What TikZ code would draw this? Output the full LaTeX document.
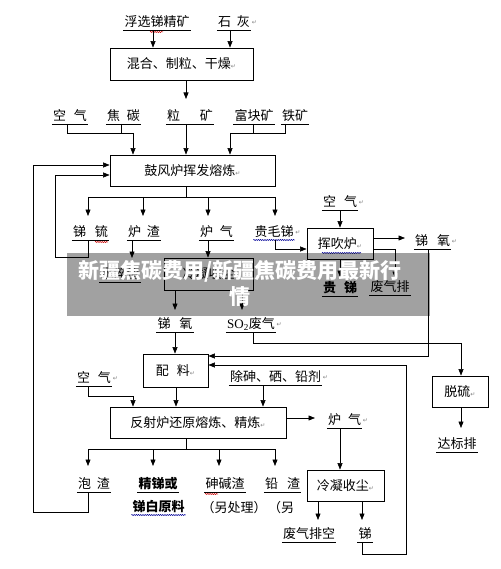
\documentclass[tikz,border=0pt]{standalone}
\usepackage{fontspec}
\setmainfont{Noto Sans CJK SC}
\newfontfamily\retfont{DejaVu Sans}
\newfontfamily\latinserif{Liberation Serif}
\usetikzlibrary{arrows.meta,decorations.pathmorphing}
\newcommand\fs{\fontsize{13}{15}\selectfont}
\newcommand\rt{{\retfont\fontsize{6}{6}\selectfont\textcolor{gray}{↵}}}
\newcommand\gp[1]{\hspace{#1pt}}
\begin{document}
\begin{tikzpicture}[x=1pt,y=-1pt,
  ln/.style={line width=0.6pt},
  arr/.style={line width=0.6pt,-{Triangle[length=6.5pt,width=5pt]}},
  lab/.style={font=\fs,inner xsep=1pt,inner ysep=0pt,text height=11pt,text depth=3.5pt,anchor=south,
     append after command={(\tikzlastnode.south west) edge[ln] (\tikzlastnode.south east)}},
  labw/.style={font=\fs,inner xsep=1pt,inner ysep=0pt,text height=11pt,text depth=3.5pt,anchor=south,
     append after command={(\tikzlastnode.south west) edge[wavyb] (\tikzlastnode.south east)}},
  txt/.style={font=\fs,inner sep=0pt},
  box/.style 2 args={draw,line width=0.8pt,minimum width=#1,minimum height=#2,inner sep=0pt,font=\fs},
  ret/.style={label={[inner sep=0.5pt]east:\rt}},
  wavyb/.style={draw=blue!60!black,line width=0.5pt,decorate,decoration={snake,amplitude=0.6pt,segment length=2.2pt}},
  wavyr/.style={draw=red!80!black,line width=0.5pt,decorate,decoration={snake,amplitude=0.6pt,segment length=2.2pt}},
]
\useasboundingbox (0,0) rectangle (500,569);
\fill[white] (0,0) rectangle (500,569);

% ---------- nodes ----------
\node[lab] (t1) at (157,30) {浮选锑精矿};
\node[lab,ret] (t2) at (234,30) {石\gp{6}灰};
\node[box={143pt}{32pt}] (b1) at (181.5,64) {混合、制粒、干燥\rt};

\node[lab] (a1) at (70,124) {空\gp{8}气};
\node[lab] (a2) at (123.5,124) {焦\gp{7}碳};
\node[lab] (a3) at (190,124) {粒\gp{20}矿};
\node[lab] (a4) at (254,124) {富块矿};
\node[lab] (a5) at (295,124) {铁矿};
\node[box={165pt}{31pt}] (b2) at (192.5,170.5) {鼓风炉挥发熔炼\rt};

\node[lab] (c1) at (90.5,240) {锑\gp{9}锍};
\node[lab] (c2) at (144,240) {炉\gp{6}渣};
\node[lab] (c3) at (216.5,240) {炉\gp{7}气};
\node[labw,ret] (c4) at (274,240) {贵毛锑};

\node[lab] (d1) at (120,282) {水淬渣};
\node[box={89pt}{32pt}] (d2) at (208.5,274) {冷凝收尘};
\node[lab] (e1) at (175,332) {锑\gp{9}氧};
\node[lab,ret] (e2) at (251,332) {{\latinserif SO\textsubscript{2}}废气};

\node[box={66pt}{31pt}] (f1) at (340,243.5) {挥吹炉\rt};
\node[lab,ret] (g1) at (340,210) {空\gp{8}气};
\node[lab,ret] (g2) at (432.5,249) {锑\gp{9}氧};
\node[lab] (g3) at (390,295) {废气排};
\node[lab,font=\fs\bfseries] (g4) at (340,296) {贵\gp{8}锑};

\node[box={65pt}{33pt}] (m1) at (175.5,370.5) {配\gp{8}料\rt};
\node[box={56pt}{31pt}] (n1) at (460,391.5) {脱硫\rt};
\node[lab] (n2) at (457,452) {达标排};

\node[lab,ret] (h1) at (94,386) {空\gp{8}气};
\node[lab,ret] (h2) at (275.5,385) {除砷、硒、铅剂};
\node[box={176pt}{31pt}] (R) at (198,422.5) {反射炉还原熔炼、精炼\rt};
\node[lab,ret] (i1) at (344.5,428) {炉\gp{7}气};
\node[box={77pt}{31pt}] (o) at (345.5,485.5) {冷凝收尘\rt};
\node[lab] (o1) at (309,542) {废气排空};
\node[lab] (o2) at (365,542) {锑\gp{6}};

\node[lab] (p1) at (94,492) {泡\gp{6}渣};
\node[lab,font=\fs\bfseries] (p2) at (158,492) {精锑或};
\node[labw,font=\fs\bfseries] (p3) at (158.5,515) {锑白原料};
\node[lab] (p4) at (225,492) {砷碱渣};
\node[txt] (p5) at (234,508) {（另处理）};
\node[lab] (p6) at (282.5,492) {铅\gp{9}渣};
\node[txt] (p7) at (281,508) {（另};

% ---------- spell-check squiggles ----------
\draw[wavyr] (150,32) -- (163,32);
\draw[wavyr] (95,242) -- (108,242);
\draw[wavyr] (205,494) -- (218,494);
\draw[wavyb] (322,253) -- (361,253);

% ---------- coordinates ----------
\coordinate (k1) at (153,0); \coordinate (k2) at (230,0); \coordinate (k3) at (186,99);
\coordinate (j1) at (67,133); \coordinate (j2) at (133,133); \coordinate (j3) at (121,133);
\coordinate (j4) at (230,133); \coordinate (j5) at (253,133); \coordinate (j6) at (285,133);
\coordinate (s0) at (186,197); \coordinate (s1) at (88,197); \coordinate (s2) at (143,197);
\coordinate (s3) at (208,197); \coordinate (s4) at (275,197);
\coordinate (s1t) at (88,216); \coordinate (s2t) at (143,216);
\coordinate (s3t) at (208,216); \coordinate (s4t) at (275,216);
\coordinate (r1) at (88,257); \coordinate (r2) at (55,257); \coordinate (r3) at (55,175);
\coordinate (u1) at (132,258);
\coordinate (v1) at (175,310); \coordinate (v2) at (242,310);
\coordinate (w1) at (275,249); \coordinate (w2) at (405,238);
\coordinate (w3) at (395,249); \coordinate (w4) at (395,278);
\coordinate (w5) at (340,277); \coordinate (w6) at (428,356);
\coordinate (x1) at (253,343); \coordinate (x2) at (461,343); \coordinate (x3) at (461,428);
\coordinate (y1) at (88,396); \coordinate (y2) at (133,396); \coordinate (y3) at (176,0);
\coordinate (y4) at (263,0); \coordinate (y5) at (315,418); \coordinate (y6) at (340,0);
\coordinate (z1) at (318,520); \coordinate (z2) at (362,520);
\coordinate (z3) at (362,554); \coordinate (z4) at (406,554); \coordinate (z5) at (406,365);
\coordinate (q0) at (186,449); \coordinate (qa) at (88,449); \coordinate (qb) at (153,449);
\coordinate (qc) at (219,449); \coordinate (qd) at (275,449);
\coordinate (qat) at (88,466); \coordinate (qbt) at (153,466);
\coordinate (qct) at (219,466); \coordinate (qdt) at (275,466);
\coordinate (q1) at (88,512); \coordinate (q2) at (33,512); \coordinate (q3) at (33,165);

% ---------- connectors ----------
\draw[arr] (t1.south -| k1) -- (b1.north -| k1);
\draw[arr] (t2.south -| k2) -- (b1.north -| k2);
\draw[arr] (b1.south -| k3) -- (k3);

\draw[ln] (a1.south -| j1) -- (j1) -- (j2);
\draw[ln] (a2.south -| j3) -- (j3);
\draw[arr] (j2) -- (b2.north -| j2);
\draw[arr] (a3.south -| k3) -- (b2.north -| k3);
\draw[ln] (a4.south -| j5) -- (j5);
\draw[ln] (a5.south -| j6) -- (j6) -- (j4);
\draw[arr] (j4) -- (b2.north -| j4);

\draw[ln] (b2.south -| s0) -- (s0);
\draw[ln] (s1) -- (s4);
\draw[arr] (s1) -- (s1t);
\draw[arr] (s2) -- (s2t);
\draw[arr] (s3) -- (s3t);
\draw[arr] (s4) -- (s4t);

\draw[arr] (c1.south -| r1) -- (r1) -- (r2) -- (r3) -- (b2.west |- r3);
\draw[arr] (c2.south -| u1) -- (u1);
\draw[arr] (c3.south -| s3) -- (d2.north -| s3);
\draw[arr] (d2.south -| v1) -- (v1);
\draw[arr] (d2.south -| v2) -- (v2);

\draw[arr] (c4.south -| w1) -- (w1) -- (f1.west |- w1);
\draw[arr] (g1.south) -- (f1.north);
\draw[arr] (f1.east |- w2) -- (w2);
\draw[arr] (f1.east |- w3) -- (w3) -- (w4);
\draw[arr] (f1.south) -- (w5);
\draw[arr] (g2.south -| w6) -- (w6) -- (m1.east |- w6);

\draw[arr] (e1.south) -- (e1.south |- m1.north);
\draw[arr] (e2.south -| x1) -- (x1) -- (x2) -- (n1.north -| x2);
\draw[arr] (n1.south -| x3) -- (x3);

\draw[arr] (h1.south -| y1) -- (y1) -- (y2) -- (R.north -| y2);
\draw[arr] (m1.south -| y3) -- (R.north -| y3);
\draw[arr] (h2.south -| y4) -- (R.north -| y4);
\draw[arr] (R.east |- y5) -- (y5);
\draw[arr] (i1.south -| y6) -- (o.north -| y6);
\draw[arr] (o.south -| z1) -- (z1);
\draw[arr] (o.south -| z2) -- (z2);
\draw[arr] (o2.south -| z3) -- (z3) -- (z4) -- (z5) -- (m1.east |- z5);

\draw[ln] (R.south -| q0) -- (q0);
\draw[ln] (qa) -- (qd);
\draw[arr] (qa) -- (qat);
\draw[arr] (qb) -- (qbt);
\draw[arr] (qc) -- (qct);
\draw[arr] (qd) -- (qdt);
\draw[arr] (p1.south -| q1) -- (q1) -- (q2) -- (q3) -- (b2.west |- q3);

% ---------- watermark ----------
\fill[black,opacity=0.37] (67,253) rectangle (430,316);
\node[font=\fontsize{21}{26}\selectfont\bfseries,text=white,align=center,text width=345pt,inner sep=0pt] (wm) at (240,283) {新疆焦碳费用/新疆焦碳费用最新行\\情};
\end{tikzpicture}
\end{document}
